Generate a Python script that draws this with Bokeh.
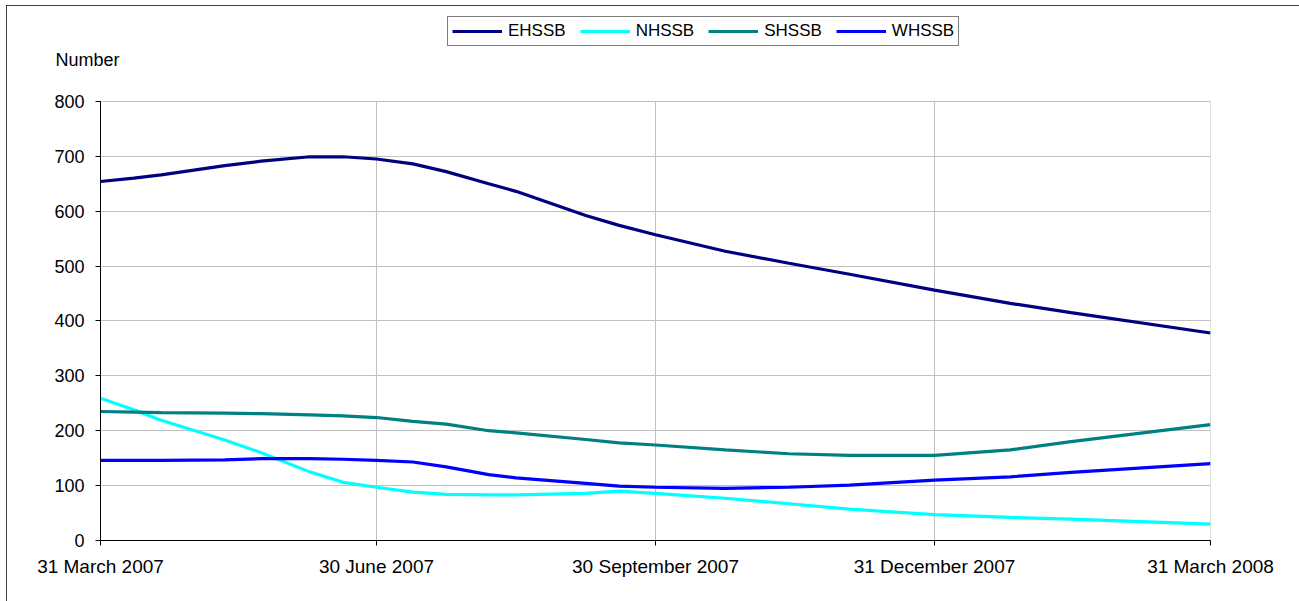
from datetime import datetime
from bokeh.plotting import figure
from bokeh.models import (Range1d, FixedTicker, Legend, LegendItem, Label, ColumnDataSource)
from bokeh.embed import file_html
from bokeh.resources import INLINE

# ---- data ----
dates = ["2007-03-31", "2007-04-11", "2007-04-20", "2007-05-11", "2007-05-23", "2007-06-08",
         "2007-06-19", "2007-06-30", "2007-07-12", "2007-07-23", "2007-08-06", "2007-08-15",
         "2007-09-07", "2007-09-18", "2007-09-30", "2007-10-23", "2007-11-13", "2007-12-03",
         "2007-12-31", "2008-01-25", "2008-02-14", "2008-03-31"]
ehssb = [654, 660, 666, 683, 691, 699, 699, 695, 686, 672, 650, 636,
         592, 574, 557, 527, 505, 485, 456, 432, 415, 378]
nhssb = [259, 238, 219, 183, 160, 125, 106, 97, 88, 84, 83, 83,
         86, 90, 86, 77, 67, 57, 47, 42, 39, 30]
shssb = [235, 234, 233, 232, 231, 229, 227, 224, 217, 212, 200, 196,
         184, 178, 174, 165, 158, 155, 155, 165, 180, 211]
whssb = [146, 146, 146, 147, 149, 149, 148, 146, 143, 134, 120, 114,
         104, 99, 97, 95, 97, 101, 110, 116, 124, 140]
series_names = ["EHSSB", "NHSSB", "SHSSB", "WHSSB"]
series_colors = ["#000080", "#00FFFF", "#008080", "#0000FF"]
tick_dates = ["2007-03-31", "2007-06-30", "2007-09-30", "2007-12-31", "2008-03-31"]
tick_labels = ["31 March 2007", "30 June 2007", "30 September 2007", "31 December 2007", "31 March 2008"]
y_ticks = [0, 100, 200, 300, 400, 500, 600, 700, 800]
y_label = "Number"

def ms(s):
    return datetime.strptime(s, "%Y-%m-%d").timestamp() * 1000.0

xs = [datetime.strptime(d, "%Y-%m-%d") for d in dates]
tick_ms = [ms(d) for d in tick_dates]
y_top = y_ticks[-1]

FONT = "Liberation Sans"
W, H = 1293, 596

# frame extends above the 800 line so the legend can sit inside it
p = figure(width=W, height=H, output_backend="svg", toolbar_location=None,
           x_axis_type="datetime",
           x_range=Range1d(tick_ms[0], tick_ms[-1]), y_range=Range1d(0, 960),
           min_border_left=94, min_border_right=89, min_border_top=8, min_border_bottom=61)
p.outline_line_color = None
p.styles = {"position": "relative", "left": "6px", "top": "5px",
            "outline": "2px solid #000", "outline-offset": "-2px"}

# vertical grid lines, limited to the 0..800 band
p.xgrid.visible = False
p.segment(x0=tick_ms, y0=[0] * len(tick_ms), x1=tick_ms, y1=[y_top] * len(tick_ms),
          line_color="#c0c0c0", line_width=1)

renderers = []
for name, vals, col in zip(series_names, [ehssb, nhssb, shssb, whssb], series_colors):
    src = ColumnDataSource(dict(x=xs, y=vals))
    r = p.line("x", "y", source=src, line_color=col, line_width=3.2)
    renderers.append((name, r))

# axes
p.xaxis.ticker = FixedTicker(ticks=tick_ms)
p.xaxis.major_label_overrides = {t: l for t, l in zip(tick_ms, tick_labels)}
p.yaxis.ticker = FixedTicker(ticks=y_ticks)
p.yaxis.bounds = (0, y_top)
for ax in (p.xaxis[0], p.yaxis[0]):
    ax.axis_line_color = "black"
    ax.axis_line_width = 1
    ax.major_tick_line_color = "black"
    ax.major_tick_out = 5
    ax.major_tick_in = 0
    ax.minor_tick_line_color = None
    ax.major_label_text_font = FONT
    ax.major_label_text_color = "black"
p.xaxis.major_label_text_font_size = "19px"
p.yaxis.major_label_text_font_size = "18px"
p.yaxis.major_label_standoff = 11
p.xaxis.major_label_standoff = 10

p.ygrid.ticker = FixedTicker(ticks=y_ticks)
p.ygrid.grid_line_color = "#c0c0c0"

# "Number" label, placed in a side panel so it is not clipped to the frame
p.add_layout(Label(x=-13, y=540, x_units="screen", y_units="screen", text=y_label,
                   text_font=FONT, text_font_size="18px", text_align="center",
                   text_baseline="alphabetic", text_color="black"), "below")

legend = Legend(items=[LegendItem(label=n, renderers=[r]) for n, r in renderers],
                orientation="horizontal", location=(347, 494),
                glyph_width=50, glyph_height=20, label_height=20, label_standoff=6,
                spacing=14, padding=4, margin=0,
                label_text_font=FONT, label_text_font_size="17px", label_text_color="black",
                border_line_color="black", border_line_width=1, background_fill_alpha=1)
p.add_layout(legend, "center")

open("out.html", "w").write(file_html(p, INLINE))
